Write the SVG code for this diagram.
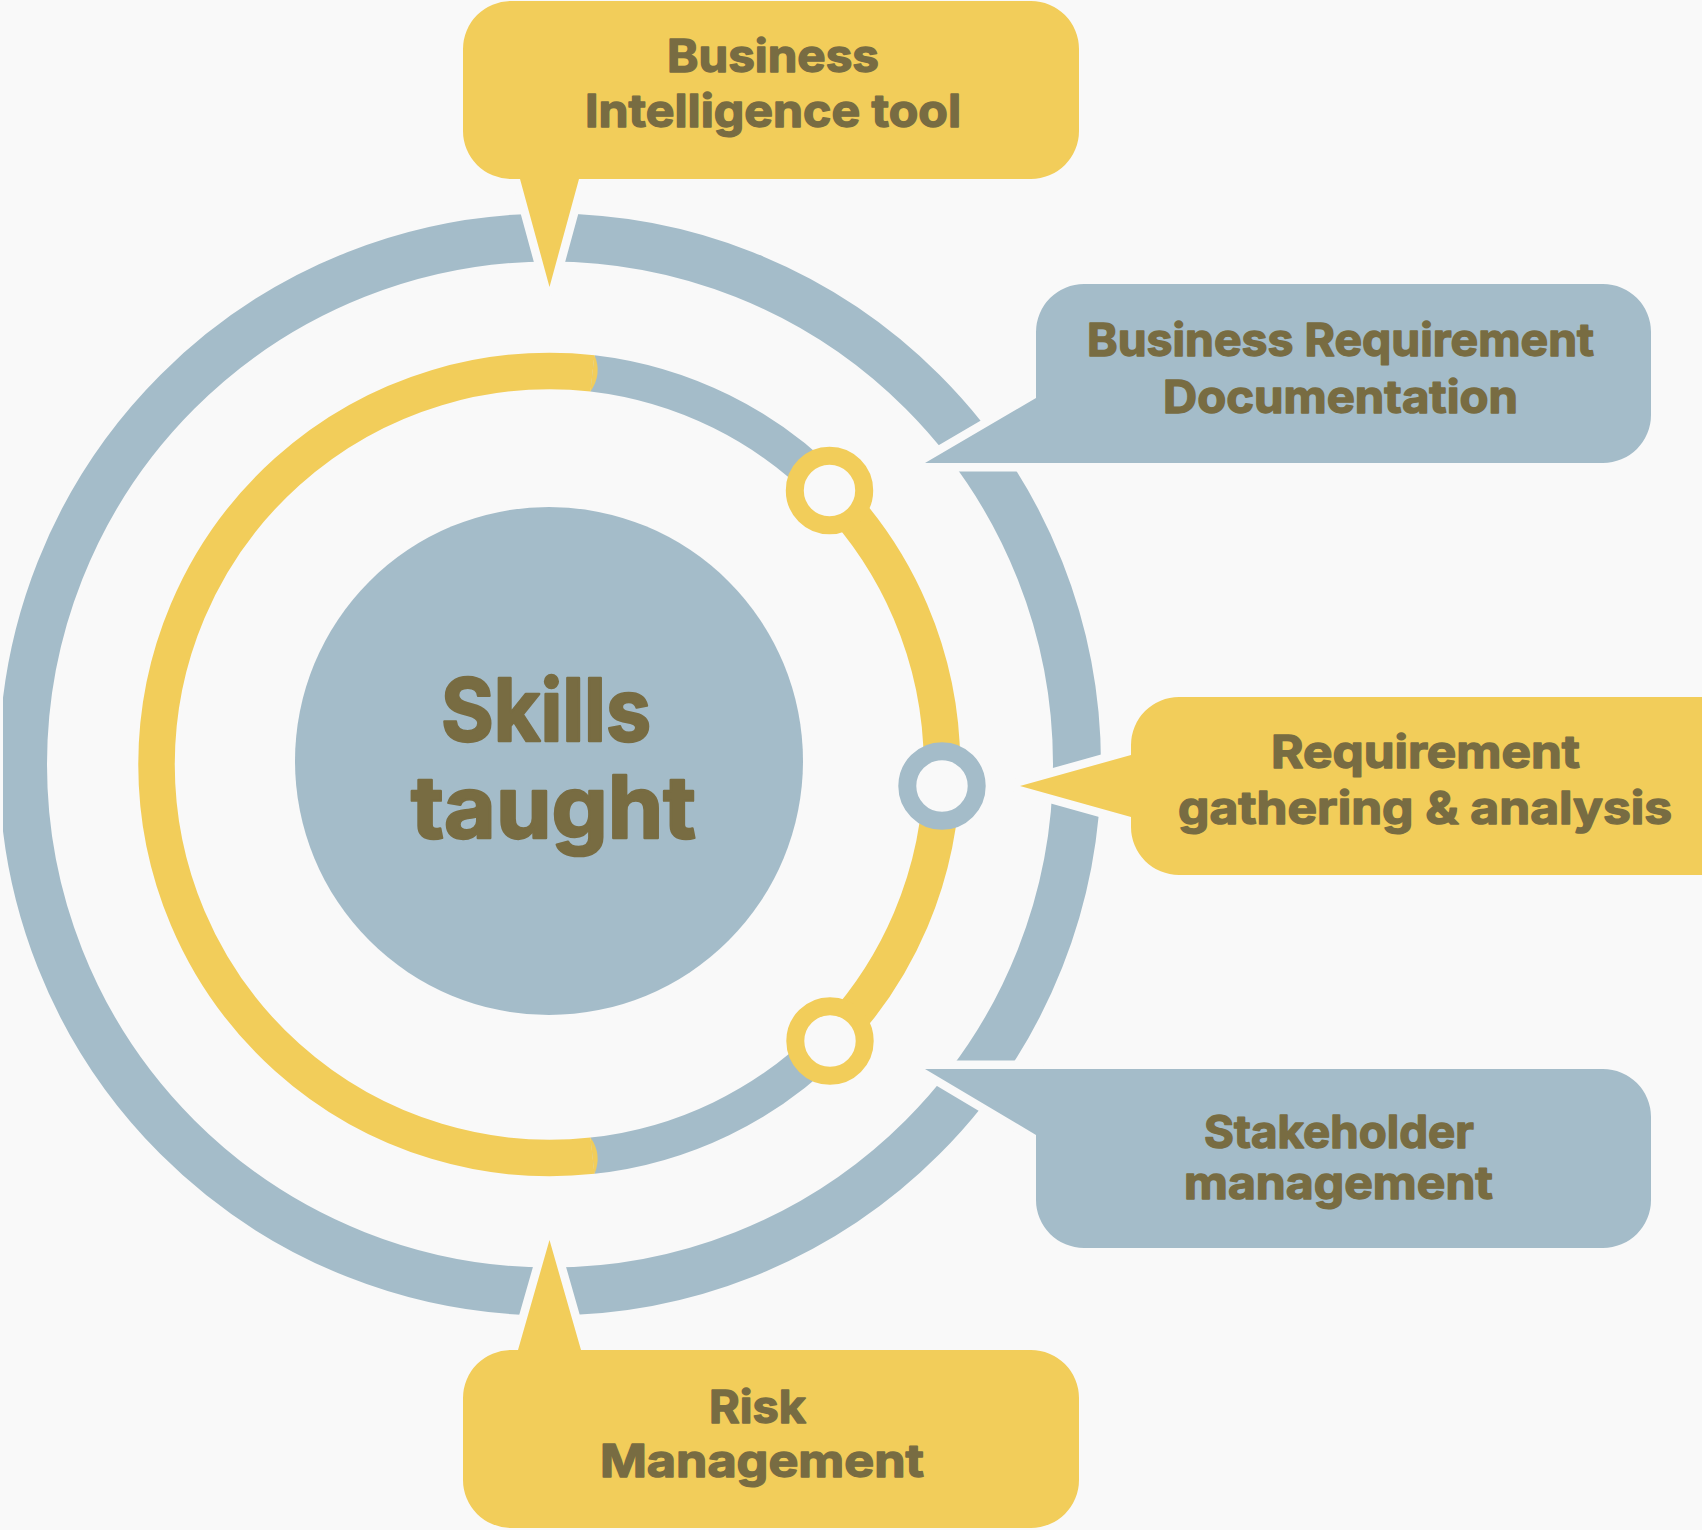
<svg xmlns="http://www.w3.org/2000/svg" width="1702" height="1530" viewBox="0 0 1702 1530">
<style>
.bg{fill:#F9F9F9}
.blue{fill:#A4BCC9}
.yellow{fill:#F2CD5A}
.cut{fill:#F9F9F9;stroke:#F9F9F9;stroke-width:17;stroke-linejoin:round}
.ringb{fill:none;stroke:#A4BCC9}
.ringy{fill:none;stroke:#F2CD5A}
.lbl{font-family:Inter,"Open Sans","Liberation Sans",sans-serif;font-weight:700;fill:#786C42;stroke:#786C42;stroke-linejoin:round;text-anchor:middle}
.t45{font-size:45px;stroke-width:1.4px}
.t86{font-size:86px;stroke-width:2.4px}
.node{fill:#F9F9F9;stroke-width:18}
</style>
<defs>
  <clipPath id="leftclip"><rect x="3" y="0" width="1699" height="1530"/></clipPath>
</defs>
<rect class="bg" x="0" y="0" width="1702" height="1530"/>

<g id="connectors">
  <circle class="ringb" cx="550" cy="764.5" r="527" stroke-width="48" clip-path="url(#leftclip)"/>
  <path class="ringb" stroke-width="36.5" d="M 592.5 373.3 A 393.5 393.5 0 0 1 829.5 490.5"/>
  <path class="ringb" stroke-width="36.5" d="M 830 1041 A 393.5 393.5 0 0 1 592.5 1155.7"/>
  <path class="ringy" stroke-width="36.5" d="M 592.5 1155.7 A 393.5 393.5 0 1 1 592.5 373.3"/>
  <path class="yellow" d="M 594.5 355.1 Q 602.4 374.4 590.5 391.4 Z"/>
  <path class="yellow" d="M 594.5 1173.9 Q 602.4 1154.6 590.5 1137.6 Z"/>
  <path class="ringy" stroke-width="36.5" d="M 829.5 490.5 A 393.5 393.5 0 0 1 830 1041"/>
</g>

<g id="gaps">
  <polygon class="cut" points="520,179 549.5,287 579,179"/>
  <polygon class="cut" points="925,463 1036,398 1036,463"/>
  <polygon class="cut" points="1131,755 1020,786 1131,817"/>
  <polygon class="cut" points="925,1069 1036,1069 1036,1135"/>
  <polygon class="cut" points="518,1350 549.5,1240 581,1350"/>
</g>

<g id="center">
  <circle class="blue" cx="549" cy="761" r="254"/>
  <text class="lbl t86" x="546" y="741" textLength="210" lengthAdjust="spacingAndGlyphs">Skills</text>
  <text class="lbl t86" x="553.5" y="838" textLength="285" lengthAdjust="spacingAndGlyphs">taught</text>
</g>

<g id="node-upper"><circle class="node" stroke="#F2CD5A" cx="829.5" cy="490.5" r="34.7"/></g>
<g id="node-middle"><circle class="node" stroke="#A4BCC9" cx="942" cy="786" r="34.7"/></g>
<g id="node-lower"><circle class="node" stroke="#F2CD5A" cx="830" cy="1041" r="34.7"/></g>

<g id="bi-tool">
  <path class="yellow" d="M 511 1 H 1031 A 48 48 0 0 1 1079 49 V 131 A 48 48 0 0 1 1031 179 H 579 L 549.5 287 L 520 179 H 511 A 48 48 0 0 1 463 131 V 49 A 48 48 0 0 1 511 1 Z"/>
  <text class="lbl t45" x="773" y="72" textLength="212" lengthAdjust="spacingAndGlyphs">Business</text>
  <text class="lbl t45" x="773" y="127" textLength="376" lengthAdjust="spacingAndGlyphs">Intelligence tool</text>
</g>

<g id="brd">
  <path class="blue" d="M 1084 284 H 1603 A 48 48 0 0 1 1651 332 V 415 A 48 48 0 0 1 1603 463 H 925 L 1036 398 V 332 A 48 48 0 0 1 1084 284 Z"/>
  <text class="lbl t45" x="1340.5" y="356" textLength="507" lengthAdjust="spacingAndGlyphs">Business Requirement</text>
  <text class="lbl t45" x="1340.5" y="413" textLength="355" lengthAdjust="spacingAndGlyphs">Documentation</text>
</g>

<g id="req-gathering">
  <path class="yellow" d="M 1179 697 H 1720 V 875 H 1179 A 48 48 0 0 1 1131 827 V 817 L 1020 786 L 1131 755 V 745 A 48 48 0 0 1 1179 697 Z"/>
  <text class="lbl t45" x="1425.5" y="768" textLength="309" lengthAdjust="spacingAndGlyphs">Requirement</text>
  <text class="lbl t45" x="1425" y="824" textLength="494" lengthAdjust="spacingAndGlyphs">gathering &amp; analysis</text>
</g>

<g id="stakeholder">
  <path class="blue" d="M 925 1069 H 1603 A 48 48 0 0 1 1651 1117 V 1200 A 48 48 0 0 1 1603 1248 H 1084 A 48 48 0 0 1 1036 1200 V 1135 Z"/>
  <text class="lbl t45" x="1339" y="1148" textLength="270" lengthAdjust="spacingAndGlyphs">Stakeholder</text>
  <text class="lbl t45" x="1338.5" y="1199" textLength="309" lengthAdjust="spacingAndGlyphs">management</text>
</g>

<g id="risk">
  <path class="yellow" d="M 511 1350 H 518 L 549.5 1240 L 581 1350 H 1031 A 48 48 0 0 1 1079 1398 V 1480 A 48 48 0 0 1 1031 1528 H 511 A 48 48 0 0 1 463 1480 V 1398 A 48 48 0 0 1 511 1350 Z"/>
  <text class="lbl t45" x="757.5" y="1423" textLength="97" lengthAdjust="spacingAndGlyphs">Risk</text>
  <text class="lbl t45" x="762" y="1477" textLength="324" lengthAdjust="spacingAndGlyphs">Management</text>
</g>
</svg>
